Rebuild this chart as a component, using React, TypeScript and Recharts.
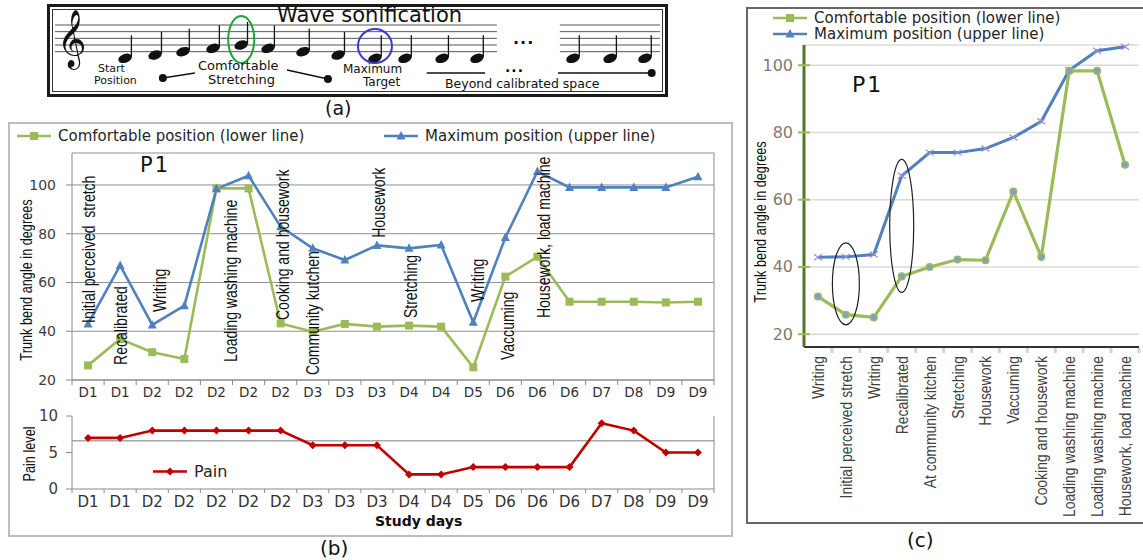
import React from "react";
import {
  LineChart,
  Line,
  XAxis,
  YAxis,
  CartesianGrid,
  ReferenceLine,
  ReferenceDot,
  LabelList,
  ScatterChart,
  Scatter,
} from "recharts";

// ---------- panel (a): wave sonification ----------
const notePitch = [0, 1, 2, 3, 4, 3, 2, 1, 0, 0, 0, 0]; // diatonic steps above C4
const noteTime = [0, 0.94, 1.81, 2.75, 3.63, 4.47, 5.56, 6.66, 7.81, 8.75, 9.91, 11];
const tailPitch = [0, 0, 0];
const tailTime = [14, 15.16, 16.25];
const staffSteps = [2, 4, 6, 8, 10];

// ---------- panel (b): study days ----------
const dayLabels = ["D1", "D1", "D2", "D2", "D2", "D2", "D2", "D3", "D3", "D3", "D4", "D4", "D5", "D6", "D6", "D6", "D7", "D8", "D9", "D9"];
const comfortB = [26, 36.8, 31.4, 28.6, 98.6, 98.6, 43.2, 39.8, 43, 41.9, 42.3, 41.9, 25.2, 62.4, 70.6, 52.1, 52.1, 52.1, 51.8, 52.1];
const maximumB = [43, 67, 42.6, 50.5, 98.4, 103.8, 82.9, 74, 69.2, 75.2, 74, 75.4, 43.7, 78.4, 105.5, 99, 99, 99, 99, 103.4];
const painLevel = [7, 7, 8, 8, 8, 8, 8, 6, 6, 6, 2, 2, 3, 3, 3, 3, 9, 8, 5, 5];
const activityNotes = ["Initial perceived  stretch", "Recalibrated", "Writing", "", "Loading washing machine", "", "Cooking and housework", "Community kutchen", "", "Housework", "Stretching", "", "Writing", "Vaccuming", "Housework, load machine", "", "", "", "", ""];
// angle where each rotated note starts (its lower end)
const noteBase = [43.4, 26.2, 47.9, null, 27.4, null, 44.6, 22, null, 78.3, 45.4, null, 52, 28.2, 45.4, null, null, null, null, null];
const noteShift = [0, 0, 7, 0, 14, 0, 2, 0, 0, 1, 1, 0, 4, 2, 6, 0, 0, 0, 0, 0];

// ---------- panel (c): activities ----------
const activitiesC = ["Writing", "Initial perceived stretch", "Writing", "Recalibrated", "At community kitchen", "Stretching", "Housework", "Vaccuming", "Cooking and housework", "Loading washing machine", "Loading washing machine", "Housework, load machine"];
const comfortC = [31.2, 25.8, 25, 37.2, 40, 42.2, 42, 62.4, 43, 98.3, 98.3, 70.4];
const maximumC = [42.9, 43, 43.7, 67.1, 74, 74, 75.2, 78.5, 83.3, 98.5, 104.3, 105.5];

const GREEN = "#9bbb59";
const BLUE = "#4f81bd";
const RED = "#c00000";
const SANS = "'DejaVu Sans', sans-serif";
const NARROW = "'Liberation Sans', Arial, sans-serif";

const bTable = dayLabels.map((d, i) => ({
  i,
  day: d,
  comfort: comfortB[i],
  maximum: maximumB[i],
  pain: painLevel[i],
  note: activityNotes[i],
  noteAt: noteBase[i],
}));
const cTable = activitiesC.map((a, i) => ({ i, name: a, comfort: comfortC[i], maximum: maximumC[i] }));
const notes = notePitch.map((p, i) => ({ t: noteTime[i], p }));
const tail = tailPitch.map((p, i) => ({ t: tailTime[i], p }));

const B_BAND = 642 / dayLabels.length;
const C_BAND = 335 / activitiesC.length;

// ---------- small drawing helpers ----------
const Square = (p: any) =>
  p.cx == null ? null : <rect x={p.cx - 4} y={p.cy - 4} width={8} height={8} fill={GREEN} />;
const Tri = (p: any) =>
  p.cx == null ? null : (
    <path d={`M${p.cx},${p.cy - 5} L${p.cx + 4.5},${p.cy + 3.5} L${p.cx - 4.5},${p.cy + 3.5} Z`} fill={BLUE} />
  );
const Diamond = (p: any) =>
  p.cx == null ? null : (
    <path d={`M${p.cx},${p.cy - 4} L${p.cx + 4},${p.cy} L${p.cx},${p.cy + 4} L${p.cx - 4},${p.cy} Z`} fill={RED} />
  );
const RoundDot = (p: any) =>
  p.cx == null ? null : <circle cx={p.cx} cy={p.cy} r={3.3} fill="#7f9fcc" stroke={GREEN} strokeWidth={1.5} />;
const Cross = (p: any) =>
  p.cx == null ? null : (
    <g stroke="#a08ad4" strokeWidth={1.2}>
      <line x1={p.cx - 4} y1={p.cy - 3} x2={p.cx + 4} y2={p.cy + 3} />
      <line x1={p.cx - 4} y1={p.cy + 3} x2={p.cx + 4} y2={p.cy - 3} />
    </g>
  );

const NoteShape = (p: any) => (
  <g>
    <ellipse cx={p.cx} cy={p.cy} rx={7} ry={4.4} transform={`rotate(-20 ${p.cx} ${p.cy})`} fill="#111" />
    <line x1={p.cx + 6.3} y1={p.cy - 1.5} x2={p.cx + 6.3} y2={p.cy - 23} stroke="#111" strokeWidth={1.3} />
  </g>
);

const ring = (rx: number, ry: number, color: string, w: number) => (p: any) =>
  <ellipse cx={p.cx} cy={p.cy} rx={rx} ry={ry} fill="none" stroke={color} strokeWidth={w} />;

function DayTick(size: number, dy: number, markLen: number) {
  return (p: any) => {
    const idx = Number(p.payload.value);
    const half = B_BAND / 2;
    return (
      <g>
        <line x1={p.x - half} x2={p.x - half} y1={p.y} y2={p.y + markLen} stroke="#8a8a8a" />
        {idx === dayLabels.length - 1 && (
          <line x1={p.x + half} x2={p.x + half} y1={p.y} y2={p.y + markLen} stroke="#8a8a8a" />
        )}
        <text x={p.x} y={p.y + dy} textAnchor="middle" fontSize={size} fontFamily={SANS} fill="#333">
          {dayLabels[idx]}
        </text>
      </g>
    );
  };
}

const ActivityTick = (p: any) => {
  const idx = Number(p.payload.value);
  const half = C_BAND / 2;
  const y = p.y + 9;
  return (
    <g>
      <rect x={p.x + half - 1.5} y={p.y + 1} width={3} height={5} fill="#d4d4d4" />
      <text
        transform={`translate(${p.x},${y}) rotate(-90) scale(0.82,1)`}
        textAnchor="end"
        dominantBaseline="central"
        fontSize={17}
        fontFamily={NARROW}
        fill="#404040"
      >
        {activitiesC[idx]}
      </text>
    </g>
  );
};

const AngleTickC = (p: any) => (
  <g>
    <line x1={p.x - 6} x2={p.x + 6} y1={p.y} y2={p.y} stroke={GREEN} strokeWidth={2} />
    <text x={p.x - 11} y={p.y} textAnchor="end" dominantBaseline="central" fontSize={16} fontFamily={SANS} fill="#86786c">
      {p.payload.value}
    </text>
  </g>
);

const renderNote = (p: any) => {
  if (!p.value || p.y == null) return null;
  const x = p.x + noteShift[p.index];
  return (
    <text
      transform={`translate(${x},${p.y}) rotate(-90) scale(0.78,1)`}
      textAnchor="start"
      dominantBaseline="central"
      fontSize={18}
      fontFamily={NARROW}
      fill="#111"
      style={{ whiteSpace: "pre" }}
    >
      {p.value}
    </text>
  );
};

const Txt = ({ x, y, size, children, style }: any) => (
  <div
    style={{
      position: "absolute",
      left: x,
      top: y,
      transform: "translateY(-50%)",
      fontSize: size,
      lineHeight: 1,
      whiteSpace: "nowrap",
      ...style,
    }}
  >
    {children}
  </div>
);

const VText = ({ cx, cy, size, children, style }: any) => (
  <div
    style={{
      position: "absolute",
      left: cx,
      top: cy,
      transform: "translate(-50%, -50%) rotate(-90deg) scaleX(0.77)",
      fontSize: size,
      lineHeight: 1,
      whiteSpace: "nowrap",
      fontFamily: NARROW,
      ...style,
    }}
  >
    {children}
  </div>
);

const LegendIcon = ({ color, marker }: any) => (
  <svg width={34} height={12} style={{ display: "block" }}>
    <line x1={0} x2={34} y1={6} y2={6} stroke={color} strokeWidth={2.5} />
    {marker === "square" && <rect x={13} y={2} width={8} height={8} fill={color} />}
    {marker === "tri" && <path d="M17,1 L21.5,9.5 L12.5,9.5 Z" fill={color} />}
    {marker === "diamond" && <path d="M17,2 L21,6 L17,10 L13,6 Z" fill={color} />}
  </svg>
);

const LegendRow = ({ x, y, color, marker, label, size }: any) => (
  <div style={{ position: "absolute", left: x, top: y, transform: "translateY(-50%)", display: "flex", alignItems: "center", gap: 7 }}>
    <LegendIcon color={color} marker={marker} />
    <span style={{ fontSize: size, color: "#262626", whiteSpace: "nowrap" }}>{label}</span>
  </div>
);

export default function App() {
  return (
    <div
      style={{
        position: "absolute",
        left: 0,
        top: 0,
        width: 1143,
        height: 560,
        overflow: "hidden",
        background: "#fff",
        fontFamily: SANS,
        color: "#111",
      }}
    >
      {/* ---------- (a) ---------- */}
      <div
        style={{
          position: "absolute",
          left: 47,
          top: 4,
          width: 615,
          height: 87,
          border: "3px solid #1a1a1a",
          boxShadow: "inset 0 0 0 2px #fff, inset 0 0 0 3px #333",
        }}
      />
      <div style={{ position: "absolute", left: 48, top: 5 }}>
        <ScatterChart width={620} height={92} margin={{ top: 0, right: 0, bottom: 0, left: 0 }}>
          <XAxis type="number" dataKey="t" domain={[-2.41, 16.97]} hide />
          <YAxis type="number" dataKey="p" domain={[-11.6, 16]} hide />
          {staffSteps.map((s) => (
            <ReferenceLine key={"a" + s} segment={[{ x: -2.19, y: s }, { x: 11.62, y: s }]} stroke="#555" strokeWidth={1} />
          ))}
          {staffSteps.map((s) => (
            <ReferenceLine key={"b" + s} segment={[{ x: 13.59, y: s }, { x: 16.72, y: s }]} stroke="#555" strokeWidth={1} />
          ))}
          <ReferenceLine segment={[{ x: 1.18, y: -5.9 }, { x: 2.18, y: -4.4 }]} stroke="#111" strokeWidth={1.3} />
          <ReferenceLine segment={[{ x: 5.06, y: -3.5 }, { x: 6.34, y: -6.2 }]} stroke="#111" strokeWidth={1.3} />
          <ReferenceLine segment={[{ x: 9.43, y: -4.4 }, { x: 11.25, y: -4.4 }]} stroke="#111" strokeWidth={1.3} />
          <ReferenceLine segment={[{ x: 13.53, y: -4.4 }, { x: 16.46, y: -4.4 }]} stroke="#111" strokeWidth={1.3} />
          <ReferenceDot x={1.18} y={-5.9} r={4} fill="#111" stroke="none" />
          <ReferenceDot x={6.34} y={-6.2} r={4} fill="#111" stroke="none" />
          <ReferenceDot x={16.46} y={-4.4} r={4} fill="#111" stroke="none" />
          <Scatter data={notes} shape={NoteShape} isAnimationActive={false} />
          <Scatter data={tail} shape={NoteShape} isAnimationActive={false} />
          <ReferenceDot x={noteTime[4]} y={5.66} shape={ring(13, 23.5, "#1fa33a", 2)} />
          <ReferenceDot x={noteTime[8]} y={3.71} shape={ring(17, 17, "#3a3ad0", 2)} />
        </ScatterChart>
      </div>
      <Txt x={57} y={38} size={50} style={{ fontFamily: "'DejaVu Sans', 'Noto Sans', serif" }}>𝄞</Txt>
      <Txt x={277} y={15} size={21}>Wave sonification</Txt>
      <Txt x={513} y={39} size={16} style={{ fontWeight: "bold", letterSpacing: 1 }}>...</Txt>
      <Txt x={505} y={67} size={14} style={{ fontWeight: "bold", letterSpacing: 1 }}>...</Txt>
      <Txt x={98} y={68} size={11}>Start</Txt>
      <Txt x={94} y={80} size={11}>Position</Txt>
      <Txt x={198} y={65} size={13}>Comfortable</Txt>
      <Txt x={208} y={79} size={13}>Stretching</Txt>
      <Txt x={343} y={69} size={12}>Maximum</Txt>
      <Txt x={363} y={82} size={12}>Target</Txt>
      <Txt x={445} y={84} size={12.5}>Beyond calibrated space</Txt>
      <Txt x={325} y={108} size={19}>(a)</Txt>

      {/* ---------- (b) ---------- */}
      <div style={{ position: "absolute", left: 8, top: 122, width: 721, height: 411, border: "2px solid #bdbdbd" }} />
      <div style={{ position: "absolute", left: 0, top: 122 }}>
        <LineChart width={735} height={290} data={bTable} margin={{ top: 31, right: 0, bottom: 0, left: 0 }}>
          <CartesianGrid yAxisId="left" vertical={false} stroke="#909090" />
          <XAxis
            dataKey="i"
            interval={0}
            height={32}
            padding={{ left: B_BAND / 2, right: B_BAND / 2 }}
            tickSize={0}
            tickMargin={0}
            tickLine={false}
            axisLine={{ stroke: "#8a8a8a" }}
            tick={DayTick(13.5, 17, 5)}
          />
          <YAxis
            yAxisId="left"
            width={72}
            domain={[20, 113.1]}
            ticks={[20, 40, 60, 80, 100]}
            tickSize={6}
            tickMargin={10}
            axisLine={{ stroke: "#8a8a8a" }}
            tickLine={{ stroke: "#8a8a8a" }}
            tick={{ fontSize: 14, fill: "#3d3d3d", fontFamily: SANS }}
          />
          <YAxis
            yAxisId="right"
            orientation="right"
            width={21}
            domain={[-0.66, 5.55]}
            ticks={[0, 1, 2, 3, 4, 5]}
            tick={false}
            tickSize={6}
            axisLine={{ stroke: "#8a8a8a" }}
            tickLine={{ stroke: "#8a8a8a" }}
          />
          <Line yAxisId="left" dataKey="comfort" stroke={GREEN} strokeWidth={2.6} dot={Square} activeDot={false} isAnimationActive={false} />
          <Line yAxisId="left" dataKey="maximum" stroke={BLUE} strokeWidth={2.6} dot={Tri} activeDot={false} isAnimationActive={false} />
          <Line yAxisId="left" dataKey="noteAt" stroke="none" dot={false} activeDot={false} isAnimationActive={false}>
            <LabelList dataKey="note" content={renderNote} />
          </Line>
        </LineChart>
      </div>
      <LegendRow x={17} y={136} color={GREEN} marker="square" label="Comfortable position (lower line)" size={15} />
      <LegendRow x={384} y={136} color={BLUE} marker="tri" label="Maximum position (upper line)" size={15} />
      <Txt x={140} y={165} size={21} style={{ letterSpacing: 2 }}>P1</Txt>
      <VText cx={26} cy={280} size={16.5}>Trunk bend angle in degrees</VText>

      <div style={{ position: "absolute", left: 0, top: 405 }}>
        <LineChart width={735} height={130} data={bTable} margin={{ top: 11, right: 0, bottom: 0, left: 0 }}>
          <XAxis
            dataKey="i"
            interval={0}
            height={46}
            padding={{ left: B_BAND / 2, right: B_BAND / 2 }}
            tickSize={0}
            tickMargin={0}
            tickLine={false}
            axisLine={{ stroke: "#8a8a8a" }}
            tick={DayTick(15, 18, 4)}
          />
          <YAxis
            width={72}
            domain={[0, 10]}
            ticks={[0, 5, 10]}
            tickSize={6}
            tickMargin={8}
            axisLine={{ stroke: "#8a8a8a" }}
            tickLine={{ stroke: "#8a8a8a" }}
            tick={{ fontSize: 15, fill: "#3d3d3d", fontFamily: SANS }}
          />
          <YAxis
            yAxisId="r"
            orientation="right"
            width={21}
            domain={[0, 10]}
            ticks={[0, 5, 10]}
            tick={false}
            tickSize={5}
            axisLine={{ stroke: "#8a8a8a" }}
            tickLine={{ stroke: "#8a8a8a" }}
          />
          <ReferenceLine y={6.6} stroke="#a8a8a8" strokeWidth={1.5} />
          <Line dataKey="pain" stroke={RED} strokeWidth={2.6} dot={Diamond} activeDot={false} isAnimationActive={false} />
        </LineChart>
      </div>
      <LegendRow x={153} y={471} color={RED} marker="diamond" label="Pain" size={16} />
      <VText cx={29} cy={454} size={16.5}>Pain level</VText>
      <Txt x={375} y={521} size={14} style={{ fontWeight: "bold" }}>Study days</Txt>
      <Txt x={320} y={548} size={20}>(b)</Txt>

      {/* ---------- (c) ---------- */}
      <div style={{ position: "absolute", left: 746, top: 7, width: 420, height: 513, border: "2px solid #666" }} />
      <div style={{ position: "absolute", left: 746, top: 7 }}>
        <LineChart width={397} height={515} data={cTable} margin={{ top: 38, right: 4, bottom: 0, left: 0 }}>
          <CartesianGrid vertical={false} stroke="#dadada" strokeWidth={1.5} />
          <XAxis
            dataKey="i"
            interval={0}
            height={175}
            padding={{ left: C_BAND / 2, right: C_BAND / 2 }}
            tickSize={0}
            tickMargin={0}
            tickLine={false}
            axisLine={{ stroke: "#333", strokeWidth: 2 }}
            tick={ActivityTick}
          />
          <YAxis
            width={58}
            domain={[16.2, 106]}
            ticks={[20, 40, 60, 80, 100]}
            tickSize={0}
            tickMargin={0}
            tickLine={false}
            axisLine={{ stroke: "#55752a", strokeWidth: 3 }}
            tick={AngleTickC}
          />
          <Line dataKey="maximum" stroke={BLUE} strokeWidth={3} dot={Cross} activeDot={false} isAnimationActive={false} />
          <Line dataKey="comfort" stroke={GREEN} strokeWidth={3.2} dot={RoundDot} activeDot={false} isAnimationActive={false} />
          <ReferenceDot x={1} y={35} shape={ring(13.5, 41, "#222", 1.2)} />
          <ReferenceDot x={3} y={52.2} shape={ring(12, 66.5, "#222", 1.2)} />
        </LineChart>
      </div>
      <LegendRow x={773} y={18} color={GREEN} marker="square" label="Comfortable position (lower line)" size={15} />
      <LegendRow x={773} y={34} color={BLUE} marker="tri" label="Maximum position (upper line)" size={15} />
      <Txt x={852} y={85} size={22} style={{ letterSpacing: 2 }}>P1</Txt>
      <VText cx={760} cy={222} size={16.5}>Trunk bend angle in degrees</VText>
      <Txt x={907} y={540} size={20}>(c)</Txt>
    </div>
  );
}
